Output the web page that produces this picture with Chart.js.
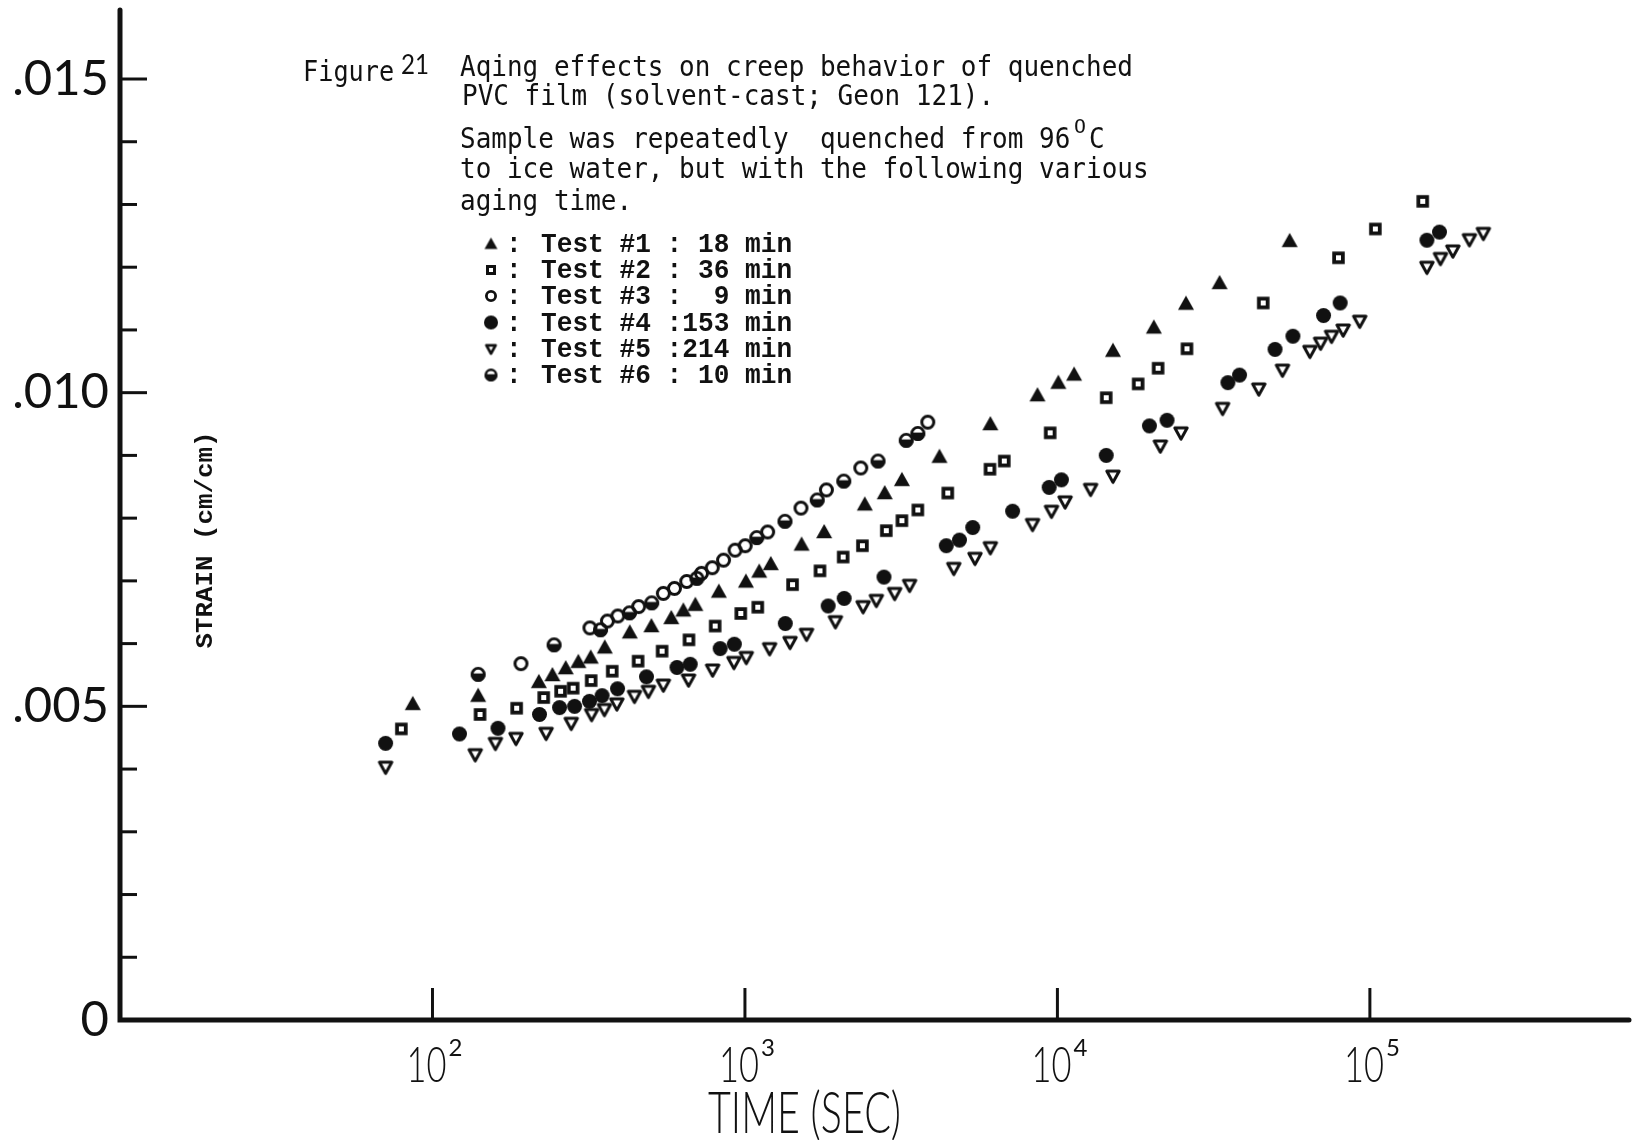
<!DOCTYPE html>
<html>
<head>
<meta charset="utf-8">
<script src="https://cdn.jsdelivr.net/npm/chart.js@4"></script>
<style>
  html, body { margin: 0; padding: 0; background: #fff; }
</style>
</head>
<body>
<canvas id="chart" width="1640" height="1140"></canvas>
<script>
// ---------- axis ticks ----------
const xTickValues = [1e2, 1e3, 1e4, 1e5];
const xTickExps = ['2', '3', '4', '5'];
const yTickValues = [0, 0.005, 0.010, 0.015];
const yTickLabels = ['0', '.005', '.010', '.015'];
const yMinorStep = 0.001;
const xMin = 10, xMax = 6.9e5, yMin = 0, yMax = 0.0161;

// ---------- series ----------
const seriesLabels = ['Test #1 : 18 min', 'Test #2 : 36 min', 'Test #3 :  9 min',
                      'Test #4 :153 min', 'Test #5 :214 min', 'Test #6 : 10 min'];
const seriesMarkers = ['triUp', 'square', 'circleOpen', 'circleFill', 'triDown', 'circleHalf'];

// time (sec) / strain (cm/cm)
const t1Time = [86.5, 140, 219, 242, 267, 293, 321, 356, 428, 502, 581, 635, 694, 825, 1007, 1111, 1210, 1518, 1793, 2418, 2801, 3180, 4194, 6100, 8635, 10070, 11310, 15060, 20350, 25790, 33040, 55370];
const t1Strain = [0.00504, 0.00517, 0.00539, 0.00550, 0.00561, 0.00571, 0.00578, 0.00594, 0.00618, 0.00628, 0.00641, 0.00653, 0.00662, 0.00683, 0.00699, 0.00715, 0.00727, 0.00758, 0.00778, 0.00822, 0.00840, 0.00861, 0.00898, 0.00950, 0.00996, 0.01016, 0.01029, 0.01067, 0.01104, 0.01142, 0.01175, 0.01242];

const t2Time = [79.5, 142, 186, 227, 257, 282, 322, 376, 455, 543, 662, 803, 970, 1099, 1420, 1738, 2062, 2376, 2834, 3180, 3575, 4458, 6083, 6761, 9478, 14330, 18130, 21000, 25980, 45570, 79350, 104100, 147600];
const t2Strain = [0.00464, 0.00487, 0.00497, 0.00514, 0.00524, 0.00529, 0.00541, 0.00556, 0.00572, 0.00588, 0.00606, 0.00628, 0.00648, 0.00658, 0.00694, 0.00716, 0.00738, 0.00756, 0.00780, 0.00796, 0.00813, 0.00840, 0.00878, 0.00891, 0.00936, 0.00992, 0.01014, 0.01039, 0.01070, 0.01143, 0.01215, 0.01261, 0.01305];

const t3Time = [192, 319, 363, 392, 457, 548, 595, 651, 726, 786, 854, 930, 1002, 1182, 1511, 1823, 2348, 3848];
const t3Strain = [0.00568, 0.00625, 0.00636, 0.00644, 0.00659, 0.00680, 0.00688, 0.00699, 0.00712, 0.00721, 0.00733, 0.00749, 0.00756, 0.00778, 0.00816, 0.00845, 0.00880, 0.00953];

const t4Time = [70.8, 122, 162, 220, 255, 285, 318, 349, 391, 484, 606, 668, 833, 925, 1346, 1846, 2077, 2786, 4409, 4858, 5357, 7188, 9408, 10300, 14330, 19700, 22430, 35120, 38260, 49700, 56710, 71080, 80330, 152200, 167000];
const t4Strain = [0.00441, 0.00456, 0.00465, 0.00487, 0.00498, 0.00500, 0.00508, 0.00517, 0.00528, 0.00547, 0.00562, 0.00567, 0.00592, 0.00599, 0.00632, 0.00660, 0.00672, 0.00706, 0.00756, 0.00765, 0.00785, 0.00811, 0.00849, 0.00861, 0.00900, 0.00947, 0.00956, 0.01016, 0.01028, 0.01069, 0.01090, 0.01123, 0.01143, 0.01243, 0.01256];

const t5Time = [70.8, 137, 159, 185, 231, 278, 323, 355, 389, 443, 491, 548, 660, 788, 922, 1010, 1199, 1394, 1574, 1948, 2388, 2633, 3014, 3365, 4660, 5448, 6100, 8325, 9570, 10580, 12770, 15060, 21350, 24860, 33770, 44090, 52520, 64270, 69530, 75390, 82120, 92800, 152200, 168200, 184300, 208200, 230700];
const t5Strain = [0.00403, 0.00423, 0.00441, 0.00449, 0.00457, 0.00473, 0.00487, 0.00495, 0.00504, 0.00516, 0.00524, 0.00534, 0.00542, 0.00558, 0.00570, 0.00578, 0.00592, 0.00602, 0.00615, 0.00635, 0.00659, 0.00669, 0.00680, 0.00693, 0.00720, 0.00736, 0.00753, 0.00790, 0.00811, 0.00826, 0.00846, 0.00867, 0.00915, 0.00936, 0.00975, 0.01006, 0.01036, 0.01066, 0.01079, 0.01090, 0.01100, 0.01114, 0.01200, 0.01214, 0.01226, 0.01244, 0.01254];

const t6Time = [140, 245, 345, 427, 503, 702, 1091, 1343, 1703, 2072, 2666, 3282, 3575];
const t6Strain = [0.00551, 0.00598, 0.00622, 0.00649, 0.00665, 0.00704, 0.00769, 0.00795, 0.00829, 0.00859, 0.00891, 0.00924, 0.00935];

const seriesTimes = [t1Time, t2Time, t3Time, t4Time, t5Time, t6Time];
const seriesStrains = [t1Strain, t2Strain, t3Strain, t4Strain, t5Strain, t6Strain];

// ---------- marker glyphs (drawn once into small canvases) ----------
function makeMarker(kind, size, lw) {
    const c = document.createElement('canvas');
    const n = Math.ceil(size) + 8;
    c.width = n; c.height = n;
    const g = c.getContext('2d');
    const m = n / 2, r = size / 2;
    g.fillStyle = '#111'; g.strokeStyle = '#111'; g.lineWidth = lw;
    g.beginPath();
    if (kind === 'triUp') {
        g.moveTo(m, m - r); g.lineTo(m + r, m + r * 0.78); g.lineTo(m - r, m + r * 0.78);
        g.closePath(); g.fill();
    } else if (kind === 'triDown') {
        const k = r - lw * 0.6;
        g.lineJoin = 'round';
        g.moveTo(m - k, m - k * 0.8); g.lineTo(m + k, m - k * 0.8); g.lineTo(m, m + k);
        g.closePath(); g.stroke();
    } else if (kind === 'square') {
        g.fillRect(m - r, m - r, size, size);
        const h = size - 2 * lw;
        g.clearRect(m - h / 2, m - h / 2, h, h);
    } else if (kind === 'circleOpen') {
        g.arc(m, m, r - lw / 2, 0, Math.PI * 2); g.stroke();
    } else if (kind === 'circleFill') {
        g.arc(m, m, r, 0, Math.PI * 2); g.fill();
    } else if (kind === 'circleHalf') {
        g.arc(m, m, r - lw / 2, 0, Math.PI * 2); g.stroke();
        g.save(); g.beginPath(); g.arc(m, m, r, 0, Math.PI * 2); g.clip();
        g.fillRect(m - r, m - r * 0.12, size, r * 1.2); g.restore();
    }
    return c;
}
const plotSizes = { triUp: [16, 0], square: [12.5, 4], circleOpen: [15, 3], circleFill: [15, 0], triDown: [16, 3], circleHalf: [15, 2.8] };
const keySizes = { triUp: [13, 0], square: [10, 3.2], circleOpen: [12, 2.8], circleFill: [14, 0], triDown: [12.5, 2.8], circleHalf: [13, 2.6] };

// ---------- text helpers ----------
function monoText(ctx, text, x, y, font, advance) {
    ctx.save();
    ctx.font = font;
    const sx = advance / ctx.measureText('M').width;
    ctx.translate(x, y); ctx.scale(sx, 1);
    ctx.textAlign = 'left';
    ctx.fillText(text, 0, 0);
    ctx.restore();
}
function fitText(ctx, text, x, y, font, width, align) {
    ctx.save();
    ctx.font = font;
    const sx = width / ctx.measureText(text).width;
    ctx.translate(x, y); ctx.scale(sx, 1);
    ctx.textAlign = align;
    ctx.fillText(text, 0, 0);
    ctx.restore();
}

// ---------- axes, labels, caption, key ----------
const paperPlugin = {
    id: 'paperPlugin',
    afterDraw(chart) {
        const ctx = chart.ctx, xs = chart.scales.x, ys = chart.scales.y, area = chart.chartArea;
        const ink = '#111';
        ctx.save();
        ctx.strokeStyle = ink; ctx.fillStyle = ink;

        // axis lines
        ctx.lineWidth = 5; ctx.lineCap = 'round';
        ctx.beginPath();
        ctx.moveTo(area.left, area.top); ctx.lineTo(area.left, area.bottom);
        ctx.lineTo(area.right - 3, area.bottom);
        ctx.stroke();

        // y ticks (inside)
        ctx.lineWidth = 3; ctx.lineCap = 'butt';
        for (let i = 1; i * yMinorStep < 0.0156; i++) {
            const py = ys.getPixelForValue(i * yMinorStep);
            const len = i % 5 === 0 ? 27 : 17;
            ctx.beginPath(); ctx.moveTo(area.left, py); ctx.lineTo(area.left + len, py); ctx.stroke();
        }
        // x ticks (inside)
        xTickValues.forEach(v => {
            const px = xs.getPixelForValue(v);
            ctx.beginPath(); ctx.moveTo(px, area.bottom); ctx.lineTo(px, area.bottom - 32); ctx.stroke();
        });

        // y tick labels
        ctx.textBaseline = 'middle';
        yTickValues.forEach((v, i) => {
            const py = ys.getPixelForValue(v);
            ctx.font = '400 49px Lato, "Open Sans", sans-serif';
            ctx.textAlign = 'right';
            ctx.fillText(yTickLabels[i], 109, py);
        });

        // x tick labels: 10 with exponent
        ctx.textBaseline = 'alphabetic';
        xTickValues.forEach((v, i) => {
            const px = xs.getPixelForValue(v);
            fitText(ctx, '10', px - 6, 1082, '300 50px Lato, "Open Sans", sans-serif', 40, 'center');
            ctx.font = '400 24px Lato, "Open Sans", sans-serif';
            ctx.textAlign = 'left';
            ctx.fillText(xTickExps[i], px + 16, 1056);
        });

        // axis titles
        fitText(ctx, 'TIME (SEC)', 708, 1133, '300 58px Lato, "Open Sans", sans-serif', 193, 'left');
        ctx.save();
        ctx.translate(212, 540); ctx.rotate(-Math.PI / 2);
        fitText(ctx, 'STRAIN (cm/cm)', 0, 0, 'bold 24px "Liberation Mono", "Courier New", monospace', 217, 'center');
        ctx.restore();

        // caption block
        const capFont = '29px "DejaVu Sans Mono", monospace';
        const adv = 15.65;
        monoText(ctx, 'Figure', 303, 81, capFont, 15.2);
        fitText(ctx, '21', 401, 74, '400 27px Lato, sans-serif', 28, 'left');
        monoText(ctx, 'Aqing effects on creep behavior of quenched', 460, 76, capFont, adv);
        monoText(ctx, 'PVC film (solvent-cast; Geon 121).', 462, 105, capFont, adv);
        monoText(ctx, 'Sample was repeatedly  quenched from 96', 460, 148, capFont, adv);
        monoText(ctx, 'O', 1074, 133, '19px "DejaVu Sans Mono", monospace', 12);
        monoText(ctx, 'C', 1089, 148, capFont, adv);
        monoText(ctx, 'to ice water, but with the following various', 460, 178, capFont, adv);
        monoText(ctx, 'aging time.', 460, 210, capFont, adv);

        // key
        const rowY = [244, 270, 296, 322.5, 349, 375];
        const keyFont = 'bold 27px "Liberation Mono", "Courier New", monospace';
        chart.data.datasets.forEach((ds, i) => {
            const img = ds.keyMarker;
            ctx.drawImage(img, 491 - img.width / 2, rowY[i] - img.height / 2);
            monoText(ctx, ':', 506, rowY[i] + 8, keyFont, 15.7);
            monoText(ctx, ds.label, 541, rowY[i] + 8, keyFont, 15.7);
        });
        ctx.restore();
    }
};

// ---------- chart ----------
const datasets = seriesLabels.map((label, i) => {
    const kind = seriesMarkers[i];
    return {
        label: label,
        data: seriesTimes[i].map((t, j) => ({ x: t, y: seriesStrains[i][j] })),
        pointStyle: makeMarker(kind, plotSizes[kind][0], plotSizes[kind][1]),
        keyMarker: makeMarker(kind, keySizes[kind][0], keySizes[kind][1]),
        pointRadius: 7,
        showLine: false
    };
});

new Chart(document.getElementById('chart').getContext('2d'), {
    type: 'scatter',
    data: { datasets: datasets },
    options: {
        responsive: false,
        animation: false,
        layout: { padding: { left: 120, right: 3, top: 10, bottom: 120 } },
        scales: {
            x: { type: 'logarithmic', min: xMin, max: xMax, display: false },
            y: { type: 'linear', min: yMin, max: yMax, display: false }
        },
        plugins: { legend: { display: false }, tooltip: { enabled: false } }
    },
    plugins: [paperPlugin]
});
</script>
</body>
</html>
